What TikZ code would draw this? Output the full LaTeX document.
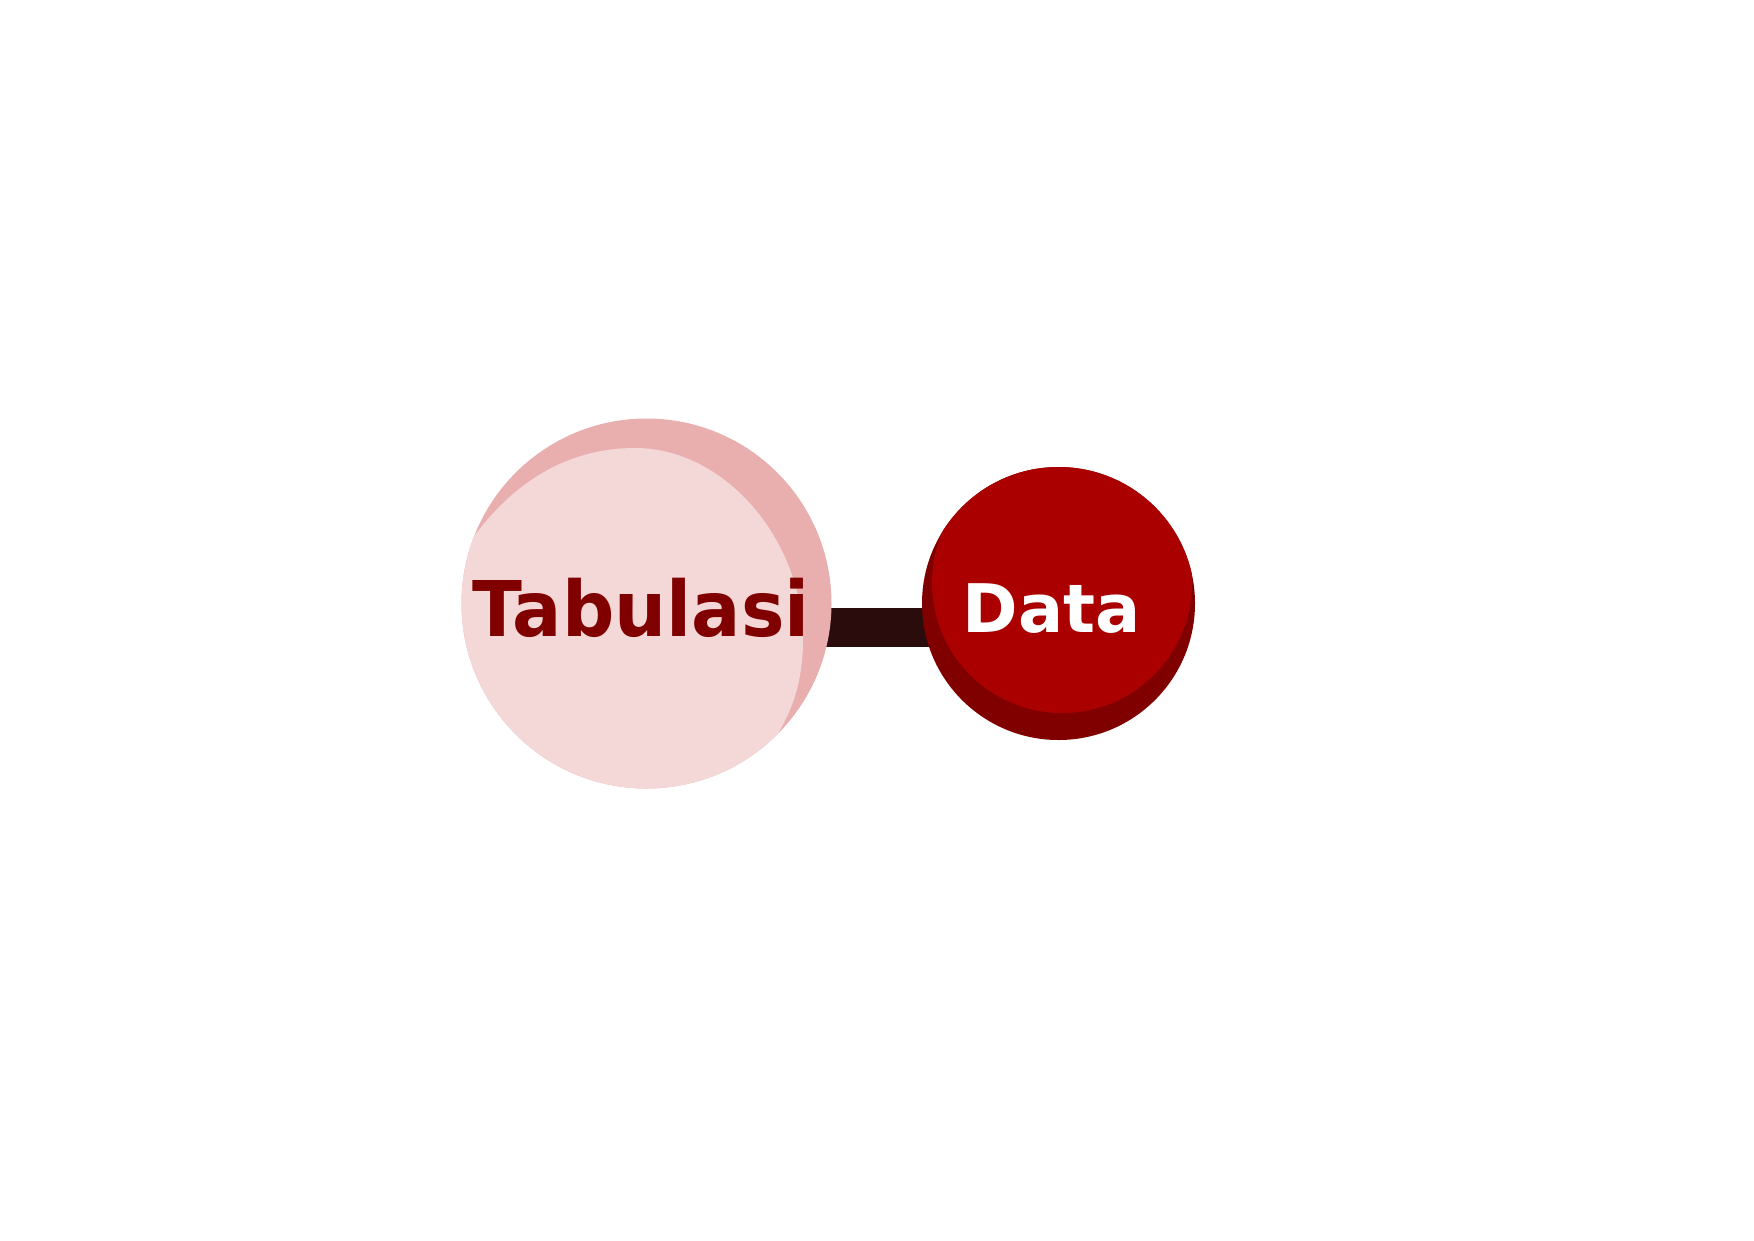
\documentclass[tikz,border=0pt]{standalone}
\usepackage{graphicx}
\usepackage{fontspec}
\setmainfont{DejaVu Sans}
\usetikzlibrary{backgrounds}
\definecolor{pinkdark}{HTML}{E9AFAF}
\definecolor{pinklight}{HTML}{F4D7D7}
\definecolor{reddark}{HTML}{800000}
\definecolor{redlight}{HTML}{AA0000}
\definecolor{barcol}{HTML}{2B0C0C}
\definecolor{txtred}{HTML}{800000}
\begin{document}
\begin{tikzpicture}[x=1pt,y=-1pt,
  ball/.style={circle, inner sep=0pt, outer sep=0pt, draw=none},
  barline/.style={draw=barcol, line width=39pt},
  lbl/.style={anchor=base, inner sep=0pt, outer sep=0pt}]
\useasboundingbox (0,0) rectangle (1754,1240);
\node[ball, minimum size=370pt, fill=pinkdark] (tab) at (646.5,603.5) {};
\node[ball, minimum size=273pt, fill=reddark] (dat) at (1058.5,603.5) {};
\begin{scope}[on background layer]
  \draw[barline] ([yshift=-24pt]tab.center) -- ([yshift=-24pt]dat.center);
\end{scope}
\begin{scope}
  \clip (tab.center) circle[radius=185pt];
  \fill[pinklight] (440,560) -- (475,535)
    .. controls (520,475) and (575,448) .. (635,448)
    .. controls (725,448) and (803,540) .. (803,640)
    .. controls (803,685) and (790,715) .. (774,740)
    -- (830,790) -- (440,800) -- cycle;
\end{scope}
\begin{scope}
  \clip (dat.center) circle[radius=136.5pt];
  \fill[redlight] (1062,583) circle[radius=130pt];
\end{scope}
\node[lbl, text=txtred, font=\bfseries\fontsize{76.8}{80}\selectfont] (tabtxt) at (641,636) {\scalebox{0.952}[1]{Tabulasi}};
\node[lbl, text=white, font=\bfseries\fontsize{67}{70}\selectfont] (dattxt) at (1052,632) {Data};
\end{tikzpicture}
\end{document}
